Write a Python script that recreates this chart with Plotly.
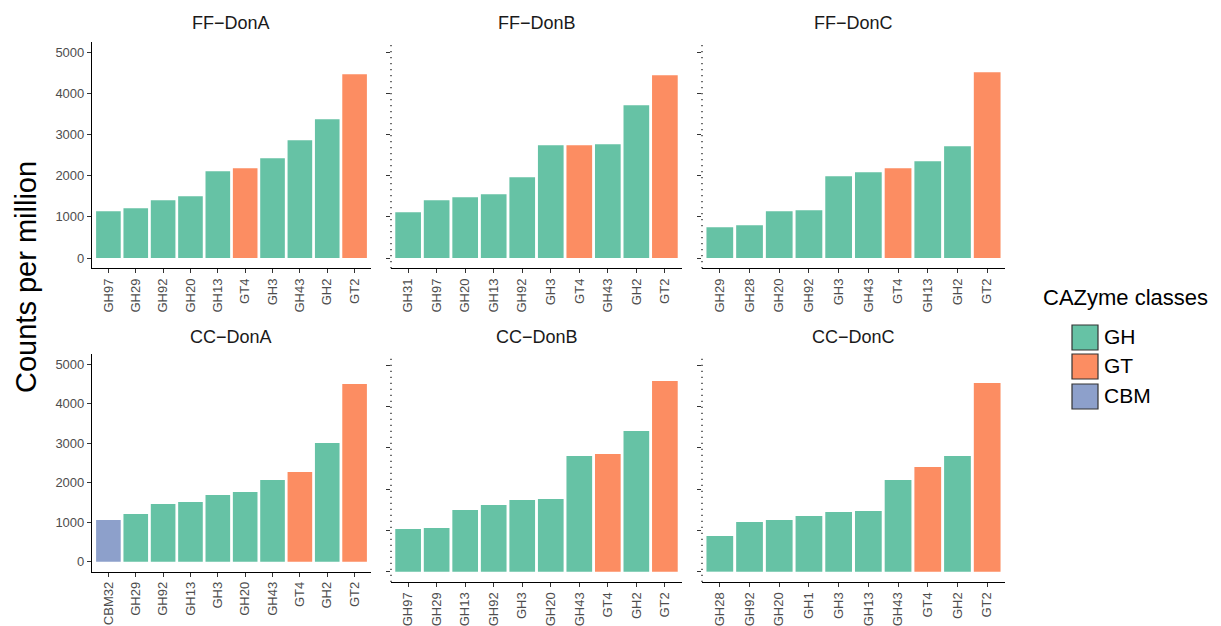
import plotly.graph_objects as go

# Canvas size in pixels
W, H = 1221, 626

# Fill colours of the CAZyme classes (ColorBrewer Set2)
class_names = ["GH", "GT", "CBM"]
class_colors = ["#66C2A5", "#FC8D62", "#8DA0CB"]

# ---- counts per million for each sample, families sorted by abundance ----
ff_dona_families = ["GH97", "GH29", "GH92", "GH20", "GH13", "GT4", "GH3", "GH43", "GH2", "GT2"]
ff_dona_counts = [1133, 1205, 1400, 1497, 2104, 2176, 2419, 2856, 3366, 4458]

ff_donb_families = ["GH31", "GH97", "GH20", "GH13", "GH92", "GH3", "GT4", "GH43", "GH2", "GT2"]
ff_donb_counts = [1108, 1400, 1472, 1545, 1958, 2735, 2735, 2759, 3706, 4434]

ff_donc_families = ["GH29", "GH28", "GH20", "GH92", "GH3", "GH43", "GT4", "GH13", "GH2", "GT2"]
ff_donc_counts = [744, 793, 1133, 1157, 1982, 2079, 2176, 2346, 2710, 4506]

cc_dona_families = ["CBM32", "GH29", "GH92", "GH13", "GH3", "GH20", "GH43", "GT4", "GH2", "GT2"]
cc_dona_counts = [1056, 1208, 1461, 1512, 1689, 1765, 2069, 2272, 3007, 4502]

cc_donb_families = ["GH97", "GH29", "GH13", "GH92", "GH3", "GH20", "GH43", "GT4", "GH2", "GT2"]
cc_donb_counts = [1032, 1056, 1492, 1613, 1734, 1758, 2798, 2847, 3403, 4613]

cc_donc_families = ["GH28", "GH92", "GH20", "GH1", "GH3", "GH13", "GH43", "GT4", "GH2", "GT2"]
cc_donc_counts = [863, 1202, 1250, 1347, 1444, 1468, 2218, 2532, 2798, 4565]

panel_titles = ["FF\u2212DonA", "FF\u2212DonB", "FF\u2212DonC",
                "CC\u2212DonA", "CC\u2212DonB", "CC\u2212DonC"]
panel_families = [ff_dona_families, ff_donb_families, ff_donc_families,
                  cc_dona_families, cc_donb_families, cc_donc_families]
panel_counts = [ff_dona_counts, ff_donb_counts, ff_donc_counts,
                cc_dona_counts, cc_donb_counts, cc_donc_counts]

y_ticks = [0, 1000, 2000, 3000, 4000, 5000]
y_title = "Counts per million"
legend_title = "CAZyme classes"

# ---- panel geometry (pixel boxes: left, right, top, bottom) ----
col_px = [(92, 371), (391, 682), (702, 1005)]
row_px = [[(41.7, 268.3), (41.7, 268.3), (41.7, 268.3)],
          [(354.4, 571.5), (354.7, 582.0), (354.7, 582.0)]]
title_y_px = [23, 336.7]


def px_x(v):
    return v / W


def px_y(v):
    return 1 - v / H


def family_class(name):
    prefix = "".join(ch for ch in name if ch.isalpha())
    return prefix


color_of = dict(zip(class_names, class_colors))

FONT = "Liberation Sans, Arial, Helvetica, sans-serif"
TICK_FONT = dict(family=FONT, size=13, color="#4D4D4D")

fig = go.Figure()
shapes = []
annotations = []
layout_axes = {}

for i, (title, fams, vals) in enumerate(zip(panel_titles, panel_families, panel_counts)):
    r, c = divmod(i, 3)
    n = i + 1
    xa = "x" if n == 1 else f"x{n}"
    ya = "y" if n == 1 else f"y{n}"
    colors = [color_of[family_class(f)] for f in fams]

    fig.add_trace(go.Bar(
        x=fams, y=vals, xaxis=xa, yaxis=ya,
        marker=dict(color=colors, line=dict(width=0)),
        showlegend=False,
        hovertemplate="%{x}: %{y}<extra>" + title + "</extra>",
    ))

    x0, x1 = col_px[c]
    top, bottom = row_px[r][c]
    first_col = c == 0

    layout_axes["xaxis" if n == 1 else f"xaxis{n}"] = dict(
        domain=[px_x(x0), px_x(x1)],
        anchor=ya,
        type="category",
        categoryorder="array",
        categoryarray=fams,
        range=[-0.6, len(fams) - 0.4],
        showline=True, linecolor="black", linewidth=1.2,
        ticks="outside", ticklen=4, tickwidth=1, tickcolor="#333333",
        tickangle=-90, tickfont=TICK_FONT,
        showgrid=False, zeroline=False, fixedrange=True,
    )
    layout_axes["yaxis" if n == 1 else f"yaxis{n}"] = dict(
        domain=[px_y(bottom), px_y(top)],
        anchor=xa,
        range=[-250, 5250],
        tickmode="array", tickvals=y_ticks,
        ticktext=[str(t) for t in y_ticks],
        showticklabels=first_col,
        showline=first_col, linecolor="black", linewidth=1.2,
        ticks="outside", ticklen=4, tickwidth=1, tickcolor="#333333",
        tickfont=TICK_FONT,
        showgrid=False, zeroline=False, fixedrange=True,
    )

    if not first_col:
        # dotted left axis line for the inner panels
        shapes.append(dict(
            type="line", xref=f"{xa} domain", yref=f"{ya} domain",
            x0=0, x1=0, y0=0, y1=0.985,
            line=dict(color="#222222", width=1.3, dash="1.3px,4.7px"),
        ))

    annotations.append(dict(
        text=title, x=px_x((x0 + x1) / 2), y=px_y(title_y_px[r]),
        xref="paper", yref="paper", xanchor="center", yanchor="middle",
        showarrow=False, font=dict(family=FONT, size=18, color="#1A1A1A"),
    ))

# shared y-axis title
annotations.append(dict(
    text=y_title, x=px_x(26), y=px_y(277), xref="paper", yref="paper",
    xanchor="center", yanchor="middle", textangle=-90, showarrow=False,
    font=dict(family=FONT, size=29, color="black"),
))

# legend drawn as keys + labels
annotations.append(dict(
    text=legend_title, x=px_x(1041), y=px_y(297), xref="paper", yref="paper",
    xanchor="left", yanchor="middle", showarrow=False,
    font=dict(family=FONT, size=22, color="black"),
))
key_tops = [325, 354, 384]
for name, col, kt in zip(class_names, class_colors, key_tops):
    shapes.append(dict(
        type="rect", xref="paper", yref="paper",
        x0=px_x(1072), x1=px_x(1098), y0=px_y(kt + 25), y1=px_y(kt),
        fillcolor=col, line=dict(color="#333333", width=1.2),
    ))
    annotations.append(dict(
        text=name, x=px_x(1102), y=px_y(kt + 11), xref="paper", yref="paper",
        xanchor="left", yanchor="middle", showarrow=False,
        font=dict(family=FONT, size=21, color="black"),
    ))

fig.update_layout(
    width=W, height=H,
    margin=dict(l=0, r=0, t=0, b=0),
    paper_bgcolor="white", plot_bgcolor="white",
    bargap=0.1, showlegend=False,
    shapes=shapes, annotations=annotations,
    font=dict(family=FONT),
    **layout_axes,
)

fig.write_html("out.html", config={"displayModeBar": False})
